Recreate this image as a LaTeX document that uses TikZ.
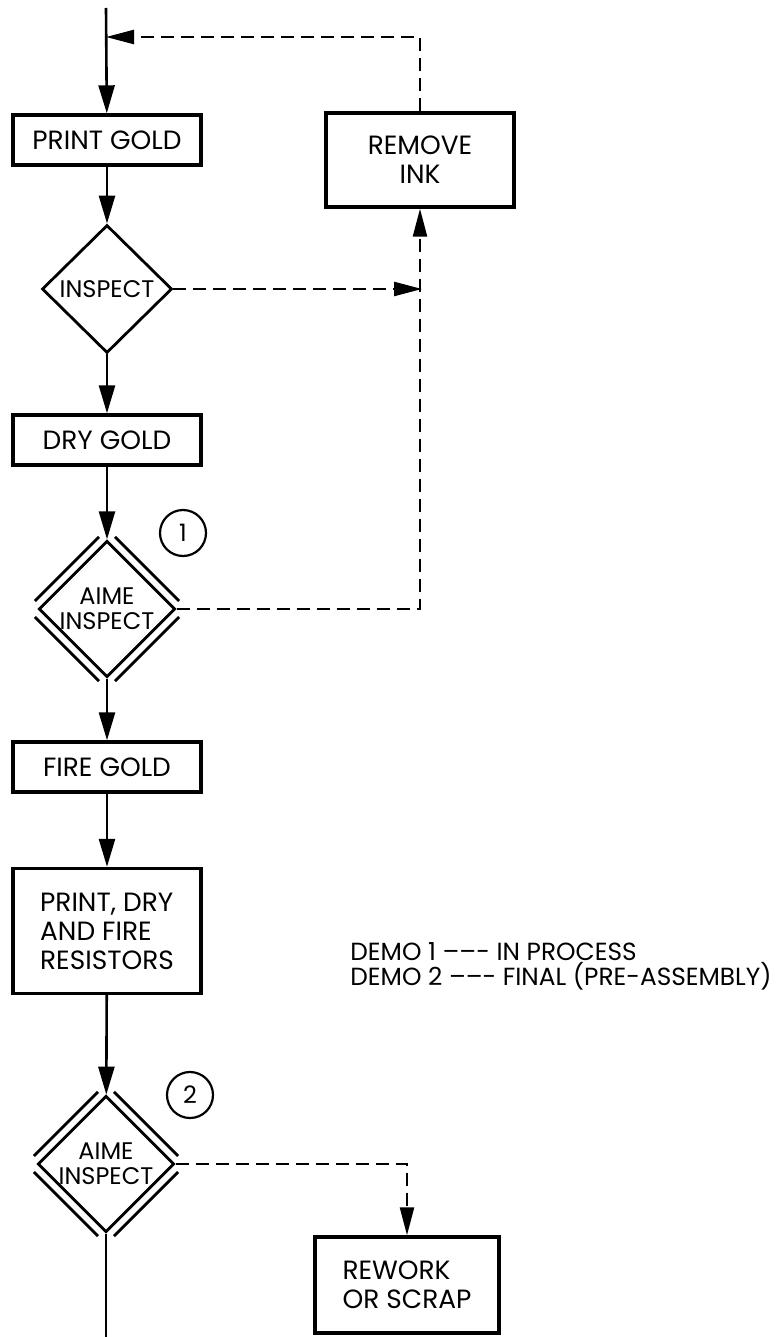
\documentclass[tikz,border=0pt]{standalone}
\usepackage{fontspec}
\setmainfont{Poppins}
\usepackage{tikz}
\usetikzlibrary{arrows.meta,shapes.geometric,calc}
\tikzset{
  px/.style={x=0.5pt, y=-0.5pt},
  stage/.style={draw, line width=1.7pt, inner sep=0pt, minimum width=94pt, minimum height=25pt, font=\fontsize{13.2}{14.5}\selectfont, align=center},
  stagel/.style={stage, align=left},
  check/.style={diamond, draw, line width=1.4pt, inner sep=0pt, minimum width=65pt, minimum height=64pt, font=\fontsize{12}{12.5}\selectfont, align=center},
  rim/.style={line width=1.4pt},
  tag/.style={circle, draw, line width=1.1pt, inner sep=0pt, minimum size=23pt, font=\fontsize{12}{12}\selectfont},
  flow/.style={draw, line width=1.3pt, -{Triangle[length=14pt,width=8pt]}},
  wire/.style={draw, line width=1.3pt},
  back/.style={draw, line width=1.2pt, dash pattern=on 6.5pt off 3.5pt, -{Triangle[length=14pt,width=7pt]}},
  legend/.style={inner sep=0pt, anchor=west, align=left, font=\fontsize{12.4}{11.5}\selectfont},
}
\begin{document}
\begin{tikzpicture}[px]
  \useasboundingbox (0,0) rectangle (780,1337);
  \coordinate (top) at (106,8);
  \coordinate (join) at (106,37);
  \coordinate (tee) at (422,289);
  \coordinate (bot) at (106,1337);

  % main line of stages
  \node[stage] (pg) at (107,140) {PRINT GOLD};
  \node[check] (inspA) at (107,289) {INSPECT};
  \node[stage] (dg) at (107,440) {DRY GOLD};
  \node[check] (aimeA) at (107,609) {AIME\\INSPECT};
  \node[tag] (tagA) at (183,533) {1};
  \node[stage] (fg) at (107,767) {FIRE GOLD};
  \node[stagel, minimum height=62.5pt] (pdf) at (107,931) {PRINT, DRY\\AND FIRE\\RESISTORS};
  \node[check] (aimeB) at (106,1164) {AIME\\INSPECT};
  \node[tag] (tagB) at (190,1095) {2};

  % side branches
  \node[stage, minimum width=94pt, minimum height=47pt] (ri) at (420,160) {REMOVE\\INK};
  \node[stagel, minimum width=92pt, minimum height=48pt] (rw) at (407,1285) {REWORK\\OR SCRAP};

  \node[legend] (key) at (350,966) {DEMO 1 --{}--{}- IN PROCESS\\DEMO 2 --{}--{}- FINAL (PRE-ASSEMBLY)};

  % double rim on the AIME checks
  \foreach \d in {aimeA,aimeB}
    \foreach \p/\q/\sx/\sy in {north/east/1/-1, east/south/1/1, south/west/-1/1, west/north/-1/-1}
      \draw[rim] ([shift={(\sx*2.6pt,\sy*-2.6pt)}]$(\d.\p)!0.04!(\d.\q)$) -- ([shift={(\sx*2.6pt,\sy*-2.6pt)}]$(\d.\p)!0.96!(\d.\q)$);

  \draw[flow] (top) -- (pg);
  \draw[flow] (pg) -- (inspA);
  \draw[flow] (inspA) -- (dg);
  \draw[flow] (dg) -- (aimeA);
  \draw[flow] (aimeA) -- (fg);
  \draw[flow] (fg) -- (pdf);
  \draw[flow] (pdf) -- (aimeB);
  \draw[wire] (aimeB) -- (bot);

  \draw[back] (ri.north) |- (join);
  \draw[back] (inspA.east) -- (tee);
  \draw[back] (aimeA.east) -| (ri.south);
  \draw[back] (aimeB.east) -| (rw.north);
\end{tikzpicture}
\end{document}
